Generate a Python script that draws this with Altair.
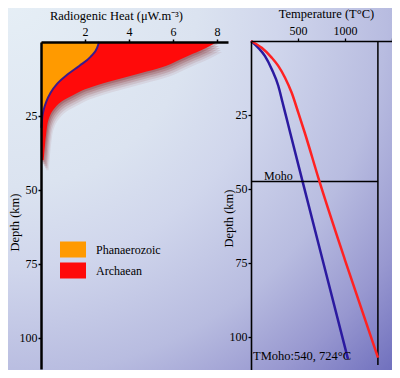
import altair as alt
import pandas as pd

# ---------------- data ----------------
phan_depth = [0, 2, 5, 8, 11, 14, 17, 20, 23, 26, 29]
phan_heat = [2.64, 2.55, 2.25, 1.75, 1.2, 0.75, 0.45, 0.25, 0.12, 0.05, 0.02]

arch_depth = [0, 2, 4, 6, 8, 10, 12, 14, 16, 18, 20, 23, 26, 30, 35, 40]
arch_heat = [8.0, 7.5, 6.9, 6.3, 5.7, 4.8, 3.8, 2.8, 2.0, 1.45, 0.95, 0.55, 0.35, 0.25, 0.18, 0.12]

cold_depth = [0, 2.3, 5.1, 9.6, 15.2, 20.8, 25.3, 31, 47, 74, 107.5]
cold_temp = [0, 78, 149, 222, 291, 336, 372, 417, 545, 762, 1032]

hot_depth = [0, 2.3, 5.6, 8.4, 12.4, 17.5, 24.2, 31, 47, 74, 107]
hot_temp = [0, 114, 220, 290, 362, 433, 503, 572, 724, 1000, 1351]

legend_names = ["Phanaerozoic", "Archaean"]
legend_colors = ["#ff9a00", "#ff0a0a"]

moho_depth = 47.5
base_temp = 1350
base_depth = 109.5
moho_label = ["Moho"]
moho_label_temp = [138]
moho_label_depth = [45.6]
tmoho_label = ["TMoho:540, 724°C"]
tmoho_label_temp = [22]
tmoho_label_depth = [106.4]

heat_ticks = [2, 4, 6, 8]
temp_ticks = [500, 1000, 1500]
depth_ticks = [25, 50, 75, 100]

SERIF = "Liberation Serif"
W, H = 384, 362

phan = pd.DataFrame({"depth": phan_depth, "heat": phan_heat, "base": 0.0, "type": "Phanaerozoic"})
arch = pd.DataFrame({"depth": arch_depth, "heat": arch_heat, "base": 0.0, "type": "Archaean"})
cold = pd.DataFrame({"depth": cold_depth, "temp": cold_temp})
hot = pd.DataFrame({"depth": hot_depth, "temp": hot_temp})
moho_df = pd.DataFrame({"depth": [moho_depth], "t0": [0], "t1": [base_temp]})
base_df = pd.DataFrame({"temp": [base_temp], "d0": [0], "d1": [base_depth]})
moho_txt = pd.DataFrame({"temp": moho_label_temp, "depth": moho_label_depth, "label": moho_label})
tmoho_txt = pd.DataFrame({"temp": tmoho_label_temp, "depth": tmoho_label_depth, "label": tmoho_label})

axis_common = dict(
    zindex=1, grid=False, domainColor="black", tickColor="black",
    labelColor="black", titleColor="black", labelFont=SERIF, titleFont=SERIF,
    labelFontSize=12, titleFontSize=12.5, titleFontWeight="normal",
    tickSize=3, labelPadding=1, labelFlush=False, format="d",
)

# ---------------- left panel ----------------
heat_scale = alt.Scale(domain=[0, 8.5], range=[33, 220], nice=False, zero=True)
dl_scale = alt.Scale(domain=[0, 110.5], range=[34, 361], nice=False, zero=True)
color_scale = alt.Scale(domain=legend_names, range=legend_colors)

x_heat = alt.X(
    "heat:Q", scale=heat_scale, stack=None,
    axis=alt.Axis(orient="top", offset=-34, values=heat_ticks,
                  title="Radiogenic Heat (μW.m⁻³)", titleX=108, titleY=-27,
                  titleBaseline="middle", domainWidth=2.5, tickWidth=1.5,
                  **axis_common),
)
y_dl = alt.Y(
    "depth:Q", scale=dl_scale,
    axis=alt.Axis(orient="left", offset=-33, values=depth_ticks,
                  title="Depth (km)", titleX=-27, titleY=214, titleAngle=270,
                  titleBaseline="middle", domainWidth=2.5, tickWidth=1.5,
                  **axis_common),
)
col = alt.Color(
    "type:N", scale=color_scale,
    legend=alt.Legend(orient="none", legendX=55, legendY=231.5, title=None,
                      symbolType="M-1.3,-0.8H1.3V0.8H-1.3Z", symbolSize=400,
                      symbolStrokeWidth=0, symbolOpacity=1, labelFont=SERIF,
                      labelFontSize=12, labelColor="black", rowPadding=3,
                      labelOffset=13, padding=0, zindex=1),
)

# soft dark-red drop shadow under the Archaean area (drawn first)
shadows = []
for dx, dy, op in [(1, 2, 0.22), (2, 4, 0.18), (3, 6, 0.14), (4, 8, 0.1), (5, 10, 0.07)]:
    shadows.append(
        alt.Chart(arch).mark_area(
            orient="horizontal", interpolate="monotone", color="#7a0d0d",
            opacity=op, xOffset=dx, x2Offset=dx, yOffset=dy,
        ).encode(x=alt.X("heat:Q", stack=None), x2="base:Q", y="depth:Q")
    )

red_area = alt.Chart(arch).mark_area(
    orient="horizontal", opacity=1, interpolate="monotone"
).encode(x=x_heat, x2="base:Q", y=y_dl, color=col)
orange_area = alt.Chart(phan).mark_area(
    orient="horizontal", opacity=1, interpolate="monotone"
).encode(x=alt.X("heat:Q", stack=None), x2="base:Q", y="depth:Q", color=col)
phan_line = alt.Chart(phan).mark_line(
    color="#3b1a8c", strokeWidth=2, interpolate="monotone"
).encode(x=alt.X("heat:Q", stack=None), y="depth:Q", order="depth:Q")

left = alt.layer(*shadows, red_area, orange_area, phan_line)

# ---------------- right panel ----------------
temp_scale = alt.Scale(domain=[0, 1550], range=[243, 388.7], nice=False, zero=True)
dr_scale = alt.Scale(domain=[0, 112], range=[33, 364.5], nice=False, zero=True)

x_temp = alt.X(
    "temp:Q", scale=temp_scale,
    axis=alt.Axis(orient="top", offset=-33, values=temp_ticks,
                  labelExpr="datum.value == 1500 ? '' : datum.label",
                  title="Temperature (T°C)", titleX=318, titleY=-28,
                  titleBaseline="middle", domainWidth=1.6, tickWidth=1.3,
                  **axis_common),
)
y_dr = alt.Y(
    "depth:Q", scale=dr_scale,
    axis=alt.Axis(orient="left", offset=-243, values=depth_ticks,
                  title="Depth (km)", titleX=-23, titleY=210, titleAngle=270,
                  titleBaseline="middle", domainWidth=1.6, tickWidth=1.3,
                  **axis_common),
)

cold_line = alt.Chart(cold).mark_line(
    color="#2b1aa0", strokeWidth=2.5, interpolate="monotone"
).encode(x=x_temp, y=y_dr, order="depth:Q")
hot_line = alt.Chart(hot).mark_line(
    color="#ff2222", strokeWidth=2.5, interpolate="monotone"
).encode(x="temp:Q", y="depth:Q", order="depth:Q")
moho_rule = alt.Chart(moho_df).mark_rule(color="black", strokeWidth=1.5).encode(
    y="depth:Q", x=alt.X("t0:Q"), x2="t1:Q")
base_rule = alt.Chart(base_df).mark_rule(color="black", strokeWidth=1.5).encode(
    x="temp:Q", y=alt.Y("d0:Q"), y2="d1:Q")
moho_text = alt.Chart(moho_txt).mark_text(
    align="left", baseline="middle", font=SERIF, fontSize=12, color="black"
).encode(x="temp:Q", y="depth:Q", text="label:N")
tmoho_text = alt.Chart(tmoho_txt).mark_text(
    align="left", baseline="middle", font=SERIF, fontSize=12.5, color="black"
).encode(x="temp:Q", y="depth:Q", text="label:N")

right = alt.layer(cold_line, base_rule, moho_rule, hot_line, moho_text, tmoho_text)

# ---------------- background ----------------
bg = alt.Chart(alt.Data(values=[{}])).mark_rect(
    strokeWidth=0,
    fill=alt.RadialGradient(
        gradient="radial", x1=0, y1=0, r1=0, x2=0, y2=0, r2=1.414,
        stops=[
            alt.GradientStop(color="#e6eff6", offset=0),
            alt.GradientStop(color="#dbe3f0", offset=0.35),
            alt.GradientStop(color="#d0d6ec", offset=0.5),
            alt.GradientStop(color="#b8bce0", offset=0.7),
            alt.GradientStop(color="#9898d0", offset=0.85),
            alt.GradientStop(color="#6c6cbc", offset=1),
        ],
    ),
).encode(x=alt.value(0), x2=alt.value(W), y=alt.value(0), y2=alt.value(H))

chart = alt.layer(bg, left, right).resolve_scale(
    x="independent", y="independent"
).properties(
    width=W, height=H, padding=0,
    autosize=alt.AutoSizeParams(type="none"),
).configure_view(stroke=None).configure(background="#d8e0ee")

chart.save("out.html", embed_options={"renderer": "svg", "actions": False})
